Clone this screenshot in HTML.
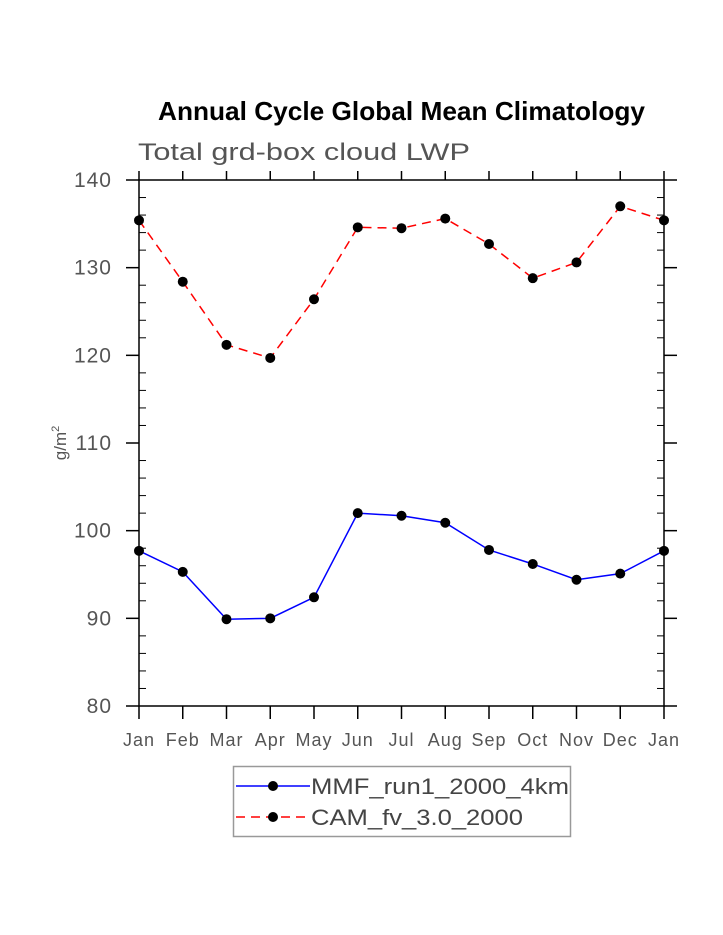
<!DOCTYPE html>
<html><head><meta charset="utf-8"><style>body{margin:0;background:#fff}svg{display:block}text{font-family:"Liberation Sans",sans-serif}</style></head>
<body>
<svg id="chart" width="723" height="935" viewBox="0 0 723 935" xmlns="http://www.w3.org/2000/svg">
<text x="158" y="120" font-size="26" font-weight="bold" textLength="487" lengthAdjust="spacingAndGlyphs">Annual Cycle Global Mean Climatology</text>
<text x="138" y="160" font-size="24" fill="#555" textLength="332" lengthAdjust="spacingAndGlyphs">Total grd-box cloud LWP</text>
<text transform="translate(66,443) rotate(-90)" text-anchor="middle" font-size="17" fill="#555">g/m<tspan font-size="11" dy="-7">2</tspan></text>
<g id="axes"></g>
<g id="series"></g>
<g>
<rect x="233.5" y="766.5" width="337" height="70" fill="none" stroke="#999" stroke-width="1.5"/>
<line x1="236" y1="786" x2="310" y2="786" stroke="#0000ff" stroke-width="1.5"/>
<circle cx="273" cy="786" r="5" fill="#000"/>
<text x="311" y="794" font-size="22" fill="#444" textLength="258" lengthAdjust="spacingAndGlyphs">MMF_run1_2000_4km</text>
<line x1="236" y1="817" x2="310" y2="817" stroke="#ff0000" stroke-width="1.5" stroke-dasharray="9,6"/>
<circle cx="273" cy="817" r="5" fill="#000"/>
<text x="311" y="825" font-size="22" fill="#444" textLength="212" lengthAdjust="spacingAndGlyphs">CAM_fv_3.0_2000</text>
</g>
</svg>
<script>
const months = ["Jan","Feb","Mar","Apr","May","Jun","Jul","Aug","Sep","Oct","Nov","Dec","Jan"];
const mmfValues = [97.7,95.3,89.9,90.0,92.4,102.0,101.7,100.9,97.8,96.2,94.4,95.1,97.7];
const camValues = [135.4,128.4,121.2,119.7,126.4,134.6,134.5,135.6,132.7,128.8,130.6,137.0,135.4];
const yTicks = [80,90,100,110,120,130,140];
const NS="http://www.w3.org/2000/svg";
const X0=139,X1=664,Y0=706,Y1=180,YMIN=80,YMAX=140;
const xs=i=>X0+(X1-X0)*i/(months.length-1);
const ys=v=>Y0-(v-YMIN)/(YMAX-YMIN)*(Y0-Y1);
function mk(tag,attrs,parent){const e=document.createElementNS(NS,tag);for(const k in attrs)e.setAttribute(k,attrs[k]);parent.appendChild(e);return e;}
const ax=document.getElementById('axes');
const frame=mk('rect',{x:X0,y:Y1,width:X1-X0,height:Y0-Y1,fill:'none',stroke:'#000','stroke-width':1.5},ax);


months.forEach((m,i)=>{
  const x=xs(i);
  mk('line',{x1:x,y1:Y0,x2:x,y2:Y0+13,stroke:'#000','stroke-width':1.5},ax);
  mk('line',{x1:x,y1:Y1,x2:x,y2:Y1-9,stroke:'#000','stroke-width':1.5},ax);
  const t=mk('text',{x:x,y:746,'text-anchor':'middle','font-size':18,fill:'#555','letter-spacing':1},ax);
  t.textContent=m;
  
  
});
for(let v=YMIN;v<=YMAX;v+=2){
  const y=ys(v);
  if(v%10===0){
    mk('line',{x1:X0-13,y1:y,x2:X0,y2:y,stroke:'#000','stroke-width':1.5},ax);
    mk('line',{x1:X1,y1:y,x2:X1+13,y2:y,stroke:'#000','stroke-width':1.5},ax);
  } else {
    mk('line',{x1:X0,y1:y,x2:X0+7,y2:y,stroke:'#000','stroke-width':1},ax);
    mk('line',{x1:X1-7,y1:y,x2:X1,y2:y,stroke:'#000','stroke-width':1},ax);
  }
}
yTicks.forEach(v=>{
  const t=mk('text',{x:112,y:ys(v)+7,'text-anchor':'end','font-size':21,fill:'#555','letter-spacing':1},ax);
  t.textContent=v;
  
  
});
const sg=document.getElementById('series');
function series(vals,color,dash,name){
  const g=mk('g',{},sg);
  
  
  const pts=vals.map((v,i)=>xs(i)+','+ys(v)).join(' ');
  const a={points:pts,fill:'none',stroke:color,'stroke-width':1.5};
  if(dash)a['stroke-dasharray']=dash;
  mk('polyline',a,g);
  vals.forEach((v,i)=>{
    const c=mk('circle',{cx:xs(i),cy:ys(v),r:5,fill:'#000'},g);
    
    
  });
}
series(camValues,'#ff0000','9,6','cam-series');
series(mmfValues,'#0000ff',null,'mmf-series');
</script>
</body></html>
